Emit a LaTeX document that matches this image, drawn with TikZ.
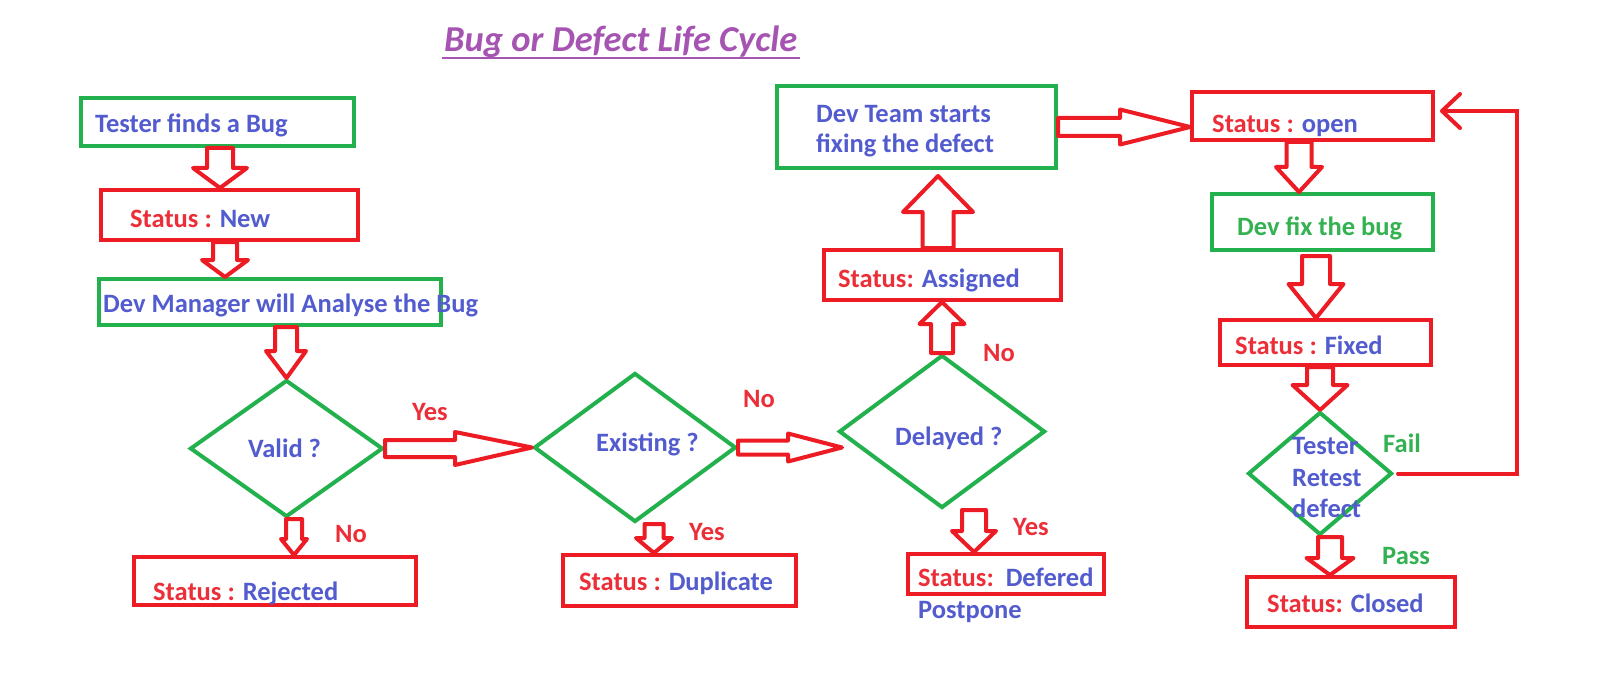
\documentclass[tikz,border=0pt]{standalone}
\usepackage{fontspec}
\setmainfont{Carlito}
\usetikzlibrary{shapes.geometric,arrows.meta,calc}
\definecolor{pred}{RGB}{237,28,36}
\definecolor{pgreen}{RGB}{34,177,76}
\definecolor{tblue}{RGB}{82,92,207}
\definecolor{tred}{RGB}{236,46,56}
\definecolor{tgreen}{RGB}{52,178,82}
\definecolor{tpurple}{RGB}{166,84,178}
% block arrows: #1 tail, #2 tip, #3 shaft half width, #4 head half width, #5 head length
\newcommand\dblk[5]{\draw[blk] let \p1=(#1), \p2=(#2) in (\x1-#3,\y1) -- (\x1-#3,\y2+#5) -- (\x1-#4,\y2+#5) -- (\x2,\y2) -- (\x1+#4,\y2+#5) -- (\x1+#3,\y2+#5) -- (\x1+#3,\y1) -- cycle;}
\newcommand\ublk[5]{\draw[blk] let \p1=(#1), \p2=(#2) in (\x1-#3,\y1) -- (\x1-#3,\y2-#5) -- (\x1-#4,\y2-#5) -- (\x2,\y2) -- (\x1+#4,\y2-#5) -- (\x1+#3,\y2-#5) -- (\x1+#3,\y1) -- cycle;}
\newcommand\rblk[5]{\draw[blk] let \p1=(#1), \p2=(#2) in (\x1,\y1-#3) -- (\x2-#5,\y1-#3) -- (\x2-#5,\y1-#4) -- (\x2,\y2) -- (\x2-#5,\y1+#4) -- (\x2-#5,\y1+#3) -- (\x1,\y1+#3) -- cycle;}
\begin{document}
\begin{tikzpicture}[x=1pt,y=-1pt,
  rbox/.style={draw=pred, line width=4pt, inner sep=0pt},
  gbox/.style={draw=pgreen, line width=4pt, inner sep=0pt},
  dia/.style={diamond, draw=pgreen, line width=4pt, inner sep=0pt},
  blk/.style={draw=pred, line width=4pt, line join=round, fill=white},
  tx/.style={anchor=base west, inner sep=0pt, font=\bfseries\fontsize{26.5}{31}\selectfont, text=tblue},
  rtx/.style={tx, text=tred},
  gtx/.style={tx, text=tgreen},
  fb/.style={draw=pred, line width=4pt, line cap=round}]
\fill[white] (0,0) rectangle (1621,679);
\useasboundingbox (0,0) rectangle (1621,679);

% title
\node[anchor=base west, inner sep=0pt, font=\bfseries\itshape\fontsize{36.5}{42}\selectfont, text=tpurple] (title) at (444,52) {Bug or Defect Life Cycle};
\draw[tpurple, line width=2.5pt] ($(title.base west)+(-2,6)$) -- ($(title.base east)+(2,6)$);

% boxes
\node[gbox, minimum width=273pt, minimum height=48pt] (b1) at (217.5,122) {};
\node[rbox, minimum width=257pt, minimum height=50pt] (b2) at (229.5,215) {};
\node[gbox, minimum width=342pt, minimum height=46pt] (b3) at (270,302) {};
\node[rbox, minimum width=282pt, minimum height=48pt] (rej) at (275,581) {};
\node[rbox, minimum width=233pt, minimum height=51pt] (dup) at (679.5,580.5) {};
\node[rbox, minimum width=196pt, minimum height=40pt] (def) at (1006,574) {};
\node[rbox, minimum width=237pt, minimum height=50pt] (asg) at (942.5,275) {};
\node[gbox, minimum width=279pt, minimum height=82pt] (dteam) at (916.5,127) {};
\node[rbox, minimum width=241pt, minimum height=48pt] (open) at (1312.5,116) {};
\node[gbox, minimum width=221pt, minimum height=56pt] (dfix) at (1322.5,222) {};
\node[rbox, minimum width=211pt, minimum height=45pt] (fixed) at (1325.5,342.5) {};
\node[rbox, minimum width=208pt, minimum height=50pt] (closed) at (1351,602) {};

% diamonds
\node[dia, minimum width=193pt, minimum height=137pt] (valid) at (286.5,448.5) {};
\node[dia, minimum width=202pt, minimum height=149pt] (exist) at (635,447.5) {};
\node[dia, minimum width=206pt, minimum height=153pt] (delay) at (942,431.5) {};
\node[dia, minimum width=144pt, minimum height=123pt] (retest) at (1320,473.5) {};

% block arrows
\dblk{220,0 |- b1.south}{220,0 |- b2.north}{13pt}{27pt}{20pt}
\dblk{225,0 |- b2.south}{225,0 |- b3.north}{12pt}{23pt}{17pt}
\dblk{286,0 |- b3.south}{valid.north}{11pt}{20pt}{27pt}
\dblk{294,0 |- valid.south}{294,0 |- rej.north}{8pt}{13pt}{16pt}
\rblk{valid.east}{exist.west}{8.5pt}{16.5pt}{77pt}
\dblk{654,0 |- exist.south}{654,0 |- dup.north}{9.5pt}{18pt}{15pt}
\rblk{exist.east}{exist.east -| 842,0}{7pt}{14pt}{54pt}
\dblk{974,0 |- delay.south}{974,0 |- def.north}{12pt}{22pt}{21pt}
\ublk{delay.north}{delay.north |- asg.south}{11pt}{22.5pt}{22pt}
\ublk{938,0 |- asg.north}{$(938,0 |- dteam.south)+(0,6)$}{15.5pt}{35pt}{36pt}
\rblk{dteam.east}{dteam.east -| open.west}{9pt}{17.5pt}{70pt}
\dblk{1299,0 |- open.south}{1299,0 |- dfix.north}{12.5pt}{23pt}{25pt}
\dblk{$(1316,0 |- dfix.south)+(0,4)$}{1316,0 |- fixed.north}{14pt}{27.5pt}{34pt}
\dblk{1320,0 |- fixed.south}{retest.north}{13pt}{27.5pt}{25pt}
\dblk{1330,0 |- retest.south}{1330,0 |- closed.north}{12pt}{23.5pt}{17pt}

% feedback (Fail)
\coordinate (fbr) at (1517,111);
\draw[fb, -{Straight Barb[length=18pt,width=34pt,round]}] ($(retest.east)+(4,0)$) -| (fbr) -- ($(open.east |- fbr)+(5,0)$);

% texts
\node[tx] (t1) at (95,133) {Tester finds a Bug};
\node[tx] (t2) at (130,227) {\textcolor{tred}{Status :} New};
\node[tx] (t3) at (103,312) {Dev Manager will Analyse the Bug};
\node[tx] (t4) at (248,457) {Valid ?};
\node[rtx] (yes1) at (412,420) {Yes};
\node[rtx] (no1) at (335,542) {No};
\node[tx] (t5) at (153,600) {\textcolor{tred}{Status :} Rejected};
\node[tx] (t6) at (596,451) {Existing ?};
\node[rtx] (no2) at (743,407) {No};
\node[rtx] (yes2) at (689,540) {Yes};
\node[tx] (t7) at (579,590) {\textcolor{tred}{Status :} Duplicate};
\node[tx] (t8) at (895,445) {Delayed ?};
\node[rtx] (no3) at (983,361) {No};
\node[rtx] (yes3) at (1013,535) {Yes};
\node[tx] (t9) at (918,586) {\textcolor{tred}{Status:}\ \ Defered};
\node[tx] (t10) at (918,618) {Postpone};
\node[tx] (t11) at (838,287) {\textcolor{tred}{Status:} Assigned};
\node[tx] (t12) at (816,123) {Dev Team starts};
\node[tx] (t13) at (816,153) {fixing the defect};
\node[tx] (t14) at (1212,133) {\textcolor{tred}{Status :} open};
\node[gtx] (t15) at (1237,235) {Dev fix the bug};
\node[tx] (t16) at (1235,354) {\textcolor{tred}{Status :} Fixed};
\node[tx] (t17) at (1292,454) {Tester};
\node[tx] (t18) at (1292,486) {Retest};
\node[tx] (t19) at (1292,517) {defect};
\node[gtx] (fail) at (1383,452) {Fail};
\node[gtx] (pass) at (1382,564) {Pass};
\node[tx] (t20) at (1267,612) {\textcolor{tred}{Status:} Closed};
\end{tikzpicture}
\end{document}
